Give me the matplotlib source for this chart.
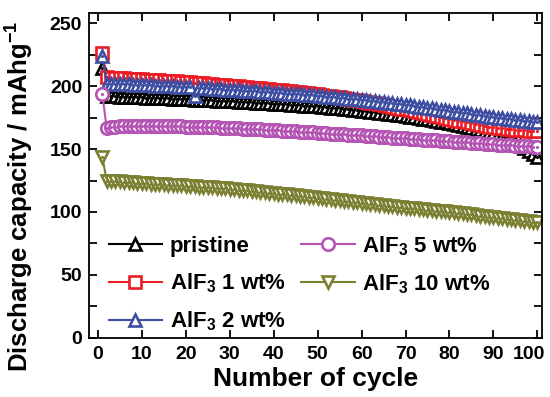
import numpy as np
import matplotlib
matplotlib.use('Agg')
import matplotlib.pyplot as plt
import matplotlib.transforms as mtransforms
from matplotlib.ticker import MultipleLocator

plt.rcParams['font.family'] = ['Liberation Sans', 'DejaVu Sans']
plt.rcParams['font.weight'] = 'bold'
plt.rcParams['mathtext.fontset'] = 'custom'
plt.rcParams['mathtext.rm'] = 'Liberation Sans:bold'
plt.rcParams['mathtext.default'] = 'rm'

cycles = np.arange(1, 101)

pristine = [
    214.0,
    192.0, 191.9, 191.8, 191.7, 191.6, 191.5, 191.3, 191.2, 191.1,
    190.9, 190.8, 190.6, 190.5, 190.3, 190.2, 190.0, 189.9, 189.7, 189.6,
    189.4, 189.3, 189.1, 189.0, 188.8, 188.6, 188.5, 188.3, 188.1, 187.9,
    187.8, 187.6, 187.4, 187.2, 187.0, 186.8, 186.6, 186.4, 186.2, 186.0,
    185.8, 185.6, 185.4, 185.2, 185.0, 184.7, 184.5, 184.3, 184.0, 183.8,
    183.5, 183.2, 182.9, 182.6, 182.3, 182.0, 181.7, 181.3, 181.0, 180.6,
    180.2, 179.8, 179.4, 179.0, 178.6, 178.2, 177.7, 177.2, 176.7, 176.2,
    175.7, 175.2, 174.7, 174.2, 173.6, 173.0, 172.4, 171.8, 171.2, 170.6,
    170.0, 169.3, 168.6, 167.9, 167.1, 166.3, 165.4, 164.5, 163.5, 162.5,
    161.3, 160.0, 158.5, 156.9, 155.1, 153.2, 151.1, 148.8, 146.3, 143.5,
]

alf3_1 = [
    226.0,
    207.0, 206.8, 206.6, 206.4, 206.2, 206.0, 205.8, 205.6, 205.4,
    205.2, 205.0, 204.8, 204.6, 204.4, 204.2, 204.0, 203.8, 203.5, 203.2,
    203.0, 202.7, 202.4, 202.1, 201.8, 201.5, 201.2, 200.9, 200.6, 200.3,
    200.0, 199.7, 199.4, 199.1, 198.8, 198.5, 198.2, 197.9, 197.6, 197.3,
    197.0, 196.6, 196.2, 195.8, 195.4, 195.0, 194.6, 194.2, 193.8, 193.4,
    193.0, 192.5, 192.0, 191.5, 191.0, 190.4, 189.8, 189.2, 188.6, 188.0,
    187.4, 186.8, 186.2, 185.6, 185.0, 184.3, 183.6, 182.9, 182.2, 181.5,
    180.8, 180.1, 179.4, 178.7, 178.0, 177.2, 176.4, 175.6, 174.8, 174.0,
    173.3, 172.6, 171.9, 171.2, 170.5, 169.8, 169.1, 168.4, 167.8, 167.2,
    166.8, 166.4, 166.0, 165.7, 165.4, 165.1, 164.8, 164.5, 164.2, 164.0,
]

alf3_2 = [
    224.0,
    202.0, 201.9, 201.8, 201.6, 201.5, 201.3, 201.2, 201.0, 200.9,
    200.7, 200.6, 200.4, 200.2, 200.0, 199.9, 199.7, 199.5, 199.3, 199.1,
    198.9, 192.0, 198.5, 198.3, 198.1, 197.9, 197.7, 197.5, 197.3, 197.1,
    196.9, 196.7, 196.5, 196.3, 196.1, 195.9, 195.6, 195.4, 195.1, 194.9,
    194.6, 194.4, 194.1, 193.9, 193.6, 193.4, 193.1, 192.9, 192.6, 192.3,
    192.0, 191.7, 191.4, 191.1, 190.8, 190.5, 190.1, 189.8, 189.4, 189.1,
    188.7, 188.3, 187.9, 187.5, 187.1, 186.7, 186.3, 185.9, 185.5, 185.0,
    184.6, 184.1, 183.7, 183.2, 182.8, 182.3, 181.8, 181.3, 180.8, 180.3,
    179.8, 179.3, 178.8, 178.3, 177.8, 177.3, 176.8, 176.3, 175.8, 175.3,
    174.8, 174.4, 174.0, 173.6, 173.2, 172.8, 172.4, 172.0, 171.6, 171.2,
]

alf3_5 = [
    194.0,
    166.5, 167.2, 167.7, 168.0, 168.2, 168.4, 168.5, 168.6, 168.6,
    168.6, 168.6, 168.5, 168.5, 168.4, 168.3, 168.2, 168.1, 168.0, 167.9,
    167.8, 167.7, 167.6, 167.5, 167.4, 167.3, 167.2, 167.0, 166.9, 166.7,
    166.6, 166.4, 166.3, 166.1, 165.9, 165.8, 165.6, 165.4, 165.2, 165.0,
    164.8, 164.6, 164.4, 164.2, 164.0, 163.8, 163.6, 163.4, 163.2, 163.0,
    162.8, 162.6, 162.3, 162.1, 161.9, 161.7, 161.4, 161.2, 161.0, 160.8,
    160.5, 160.3, 160.1, 159.8, 159.6, 159.4, 159.1, 158.9, 158.7, 158.4,
    158.2, 158.0, 157.7, 157.5, 157.3, 157.0, 156.8, 156.6, 156.3, 156.1,
    155.9, 155.6, 155.4, 155.2, 154.9, 154.7, 154.5, 154.2, 154.0, 153.8,
    153.5, 153.3, 153.1, 152.9, 152.7, 152.5, 152.3, 152.1, 151.9, 151.7,
]

alf3_10 = [
    144.0,
    125.0, 124.8, 124.5, 124.3, 124.0, 123.8, 123.5, 123.3, 123.0,
    122.8, 122.6, 122.4, 122.2, 122.0, 121.8, 121.6, 121.4, 121.2, 121.0,
    120.7, 120.5, 120.2, 120.0, 119.7, 119.5, 119.2, 119.0, 118.7, 118.5,
    118.1, 117.8, 117.4, 117.1, 116.7, 116.4, 116.0, 115.7, 115.3, 115.0,
    114.6, 114.3, 113.9, 113.6, 113.2, 112.9, 112.5, 112.2, 111.8, 111.5,
    111.1, 110.7, 110.3, 109.9, 109.5, 109.1, 108.7, 108.3, 107.9, 107.5,
    107.1, 106.7, 106.3, 105.9, 105.5, 105.1, 104.7, 104.3, 103.9, 103.5,
    103.2, 102.8, 102.5, 102.1, 101.8, 101.4, 101.1, 100.7, 100.4, 100.0,
    99.6, 99.2, 98.8, 98.4, 98.0, 97.6, 97.2, 96.8, 96.4, 96.0,
    95.6, 95.2, 94.8, 94.4, 94.0, 93.6, 93.2, 92.8, 92.4, 92.0,
]

labels = ['pristine', 'AlF$_3$ 1 wt%', 'AlF$_3$ 2 wt%', 'AlF$_3$ 5 wt%', 'AlF$_3$ 10 wt%']
series = [pristine, alf3_1, alf3_2, alf3_5, alf3_10]
colors = ['#000000', '#ec1c24', '#3d4ea2', '#b455b4', '#7b8033']
markers = ['^', 's', '^', 'o', 'v']

fig = plt.figure(figsize=(5.5, 3.97), dpi=100)
ax = fig.add_axes([0.162, 0.149, 0.823, 0.818])

for y, lab, c, m in zip(series, labels, colors, markers):
    ax.plot(cycles, y, color=c, lw=1.5, marker=m, markersize=9, mfc='white',
            mec=c, mew=1.9, label=lab)
    # little centre dot inside each open marker
    ax.plot(cycles, y, ls='none', marker='.', markersize=2.5, color=c)

ax.set_xlim(-2, 101)
ax.set_ylim(0, 258)
ax.xaxis.set_major_locator(MultipleLocator(10))
ax.yaxis.set_major_locator(MultipleLocator(50))
ax.yaxis.set_minor_locator(MultipleLocator(25))
ax.tick_params(which='both', direction='in', top=True, right=True, width=1.3,
               labelsize=14)
ax.tick_params(axis='x', pad=6)
ax.tick_params(axis='y', pad=5)
ax.tick_params(which='major', length=6)
ax.tick_params(which='minor', length=6)
for s in ax.spines.values():
    s.set_linewidth(1.3)

ax.set_xlabel('Number of cycle', fontsize=19, fontweight='bold', labelpad=3)
ax.set_ylabel('Discharge capacity / mAhg$^{-1}$', fontsize=18.5, fontweight='bold')
ax.yaxis.set_label_coords(-0.118, 0.437)

ax.legend(ncol=2, loc='lower left', bbox_to_anchor=(0.014, -0.027), frameon=False,
          fontsize=16, handlelength=2.4, handletextpad=0.35, columnspacing=0.7,
          labelspacing=0.65, borderaxespad=0.2)

# nudge the "100" label left so it stays inside the canvas
fig.canvas.draw()
for tick in ax.xaxis.get_major_ticks():
    if abs(tick.get_loc() - 100) < 1e-6:
        lbl = tick.label1
        lbl.set_transform(lbl.get_transform() +
                          mtransforms.ScaledTranslation(-6 / 72, 0, fig.dpi_scale_trans))

fig.savefig('out.png', dpi=100)
